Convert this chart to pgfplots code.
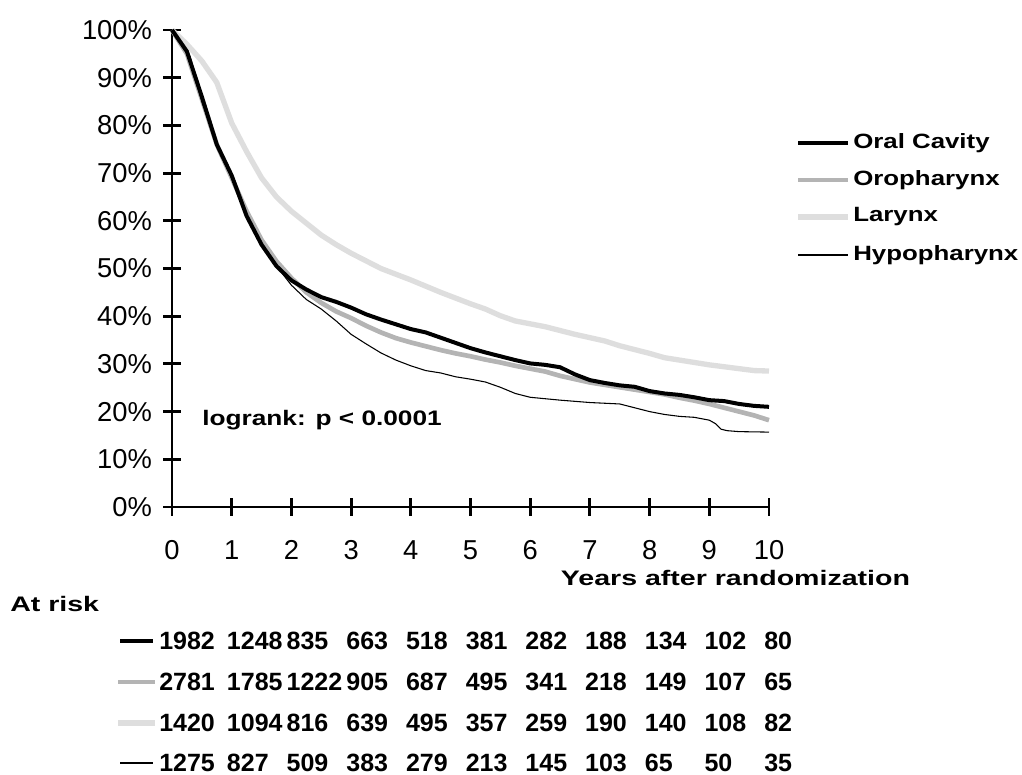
\documentclass[border=0pt]{standalone}
\usepackage{pgfplots}
\pgfplotsset{compat=1.18}
\usepackage{fontspec}
\setmainfont{Liberation Sans}
\newfontfamily\boldwide[FakeStretch=1.25]{Liberation Sans}
\newfontfamily\boldwider[FakeStretch=1.36]{Liberation Sans}
\definecolor{orogray}{RGB}{180,180,180}
\definecolor{larlight}{RGB}{222,222,222}

\pgfplotstableread{
x y
0 100
0.25 95.5
0.5 86
0.75 76
1.0 69.5
1.25 61
1.5 55
1.75 50.5
2.0 47.5
2.25 45.6
2.5 44.0
2.75 43.0
3.0 41.8
3.25 40.4
3.5 39.3
3.75 38.3
4.0 37.3
4.25 36.6
4.5 35.5
4.75 34.4
5.0 33.3
5.25 32.4
5.5 31.6
5.75 30.8
6.0 30.1
6.25 29.8
6.5 29.3
6.75 27.8
7.0 26.6
7.25 26.0
7.5 25.5
7.75 25.2
8.0 24.3
8.25 23.8
8.5 23.5
8.75 23.0
9.0 22.4
9.25 22.2
9.5 21.6
9.75 21.2
10 21.0
}\oral

\pgfplotstableread{
x y
0 100
0.25 95
0.5 85.5
0.75 76
1.0 69
1.25 62
1.5 56
1.75 51.5
2.0 48
2.25 45
2.5 42.8
2.75 41.0
3.0 39.6
3.25 38.0
3.5 36.6
3.75 35.4
4.0 34.5
4.25 33.7
4.5 32.9
4.75 32.2
5.0 31.6
5.25 30.9
5.5 30.3
5.75 29.6
6.0 29.0
6.25 28.4
6.5 27.5
6.75 26.8
7.0 26.1
7.25 25.6
7.5 25.1
7.75 24.6
8.0 24.1
8.25 23.6
8.5 22.9
8.75 22.3
9.0 21.6
9.25 20.8
9.5 20.0
9.75 19.2
10 18.2
}\oro

\pgfplotstableread{
x y
0 100
0.25 97
0.5 93.5
0.75 89
1.0 80.5
1.25 74.5
1.5 69
1.75 65
2.0 62
2.25 59.5
2.5 57
2.75 55
3.0 53.2
3.25 51.6
3.5 50.0
3.75 48.8
4.0 47.6
4.25 46.3
4.5 45.0
4.75 43.8
5.0 42.6
5.25 41.5
5.5 40.1
5.75 39.0
6.0 38.4
6.25 37.8
6.5 37.0
6.75 36.2
7.0 35.5
7.25 34.8
7.5 33.8
7.75 33.0
8.0 32.2
8.25 31.3
8.5 30.8
8.75 30.3
9.0 29.8
9.25 29.4
9.5 29.0
9.75 28.6
10 28.5
}\lar

\pgfplotstableread{
x y
0 100
0.2 96
0.3 94.5
0.5 85
0.75 76
1.0 69
1.25 61
1.5 55
1.75 50.5
2.0 46.5
2.25 43.5
2.5 41.5
2.75 39
3.0 36.2
3.25 34.2
3.5 32.3
3.75 30.8
4.0 29.6
4.25 28.6
4.5 28.1
4.75 27.3
5.0 26.8
5.25 26.2
5.5 25.1
5.75 23.8
6.0 23.0
6.5 22.4
7.0 21.9
7.5 21.6
7.75 20.8
8.0 20.0
8.25 19.4
8.5 19.0
8.75 18.8
9.0 18.2
9.1 17.5
9.2 16.3
9.3 16.0
9.5 15.8
10 15.7
}\hypo

\begin{document}
\begin{tikzpicture}
\path[use as bounding box] (0pt,0pt) rectangle (766.5pt,581.25pt);
\begin{axis}[
  at={(129pt,201pt)}, anchor=south west,
  scale only axis, width=447.75pt, height=357.75pt,
  xmin=0, xmax=10, ymin=0, ymax=100,
  axis lines*=left,
  axis line style={line width=2.2pt, -},
  every tick/.style={line width=2.2pt, black},
  tick align=center,
  major tick length=13pt,
  xtick={0,1,...,10},
  ytick={0,10,...,100},
  yticklabels={0\%,10\%,20\%,30\%,40\%,50\%,60\%,70\%,80\%,90\%,100\%},
  xticklabels={0,1,2,3,4,5,6,7,8,9,10},
  tick label style={font=\fontsize{20.5}{24}\selectfont},
  yticklabel style={xshift=-5pt},
  xticklabel style={yshift=-15pt},
  clip=false,
]
\addplot[larlight, line width=4pt] table {\lar};
\addplot[orogray, line width=3.5pt] table {\oro};
\addplot[black, line width=3pt] table {\oral};
\addplot[black, line width=0.8pt] table {\hypo};
\end{axis}

\begin{scope}[x=0.75pt,y=0.75pt]
% texts
\node[anchor=center, inner sep=0] at (735.5,197) {\boldwider\bfseries\fontsize{15.75}{18}\selectfont Years after randomization};
\node[anchor=west, inner sep=0] at (202,355) {\boldwide\bfseries\fontsize{15.75}{18}\selectfont logrank: p < 0.0001};
\node[anchor=west, inner sep=0] at (10,171) {\boldwider\bfseries\fontsize{15.75}{18}\selectfont At risk};

% legend
\draw[black, line width=3pt] (798,632) -- (848,632);
\draw[orogray, line width=3.5pt] (798,595) -- (848,595);
\draw[larlight, line width=4pt] (798,558) -- (848,558);
\draw[black, line width=0.8pt] (798,520) -- (848,520);
\node[anchor=west, inner sep=0] at (853,632) {\boldwide\bfseries\fontsize{15.5}{18}\selectfont Oral Cavity};
\node[anchor=west, inner sep=0] at (853,595) {\boldwide\bfseries\fontsize{15.5}{18}\selectfont Oropharynx};
\node[anchor=west, inner sep=0] at (853,558) {\boldwide\bfseries\fontsize{15.5}{18}\selectfont Larynx};
\node[anchor=west, inner sep=0] at (853,520) {\boldwide\bfseries\fontsize{15.5}{18}\selectfont Hypopharynx};

% at risk
\draw[black, line width=3pt] (120,134) -- (153,134);
\draw[orogray, line width=3.5pt] (118,93) -- (155,93);
\draw[larlight, line width=4pt] (118,52) -- (155,52);
\draw[black, line width=0.8pt] (120,12) -- (153,12);
\foreach \row/\yy in {{1982,1248,835,663,518,381,282,188,134,102,80}/134,
                      {2781,1785,1222,905,687,495,341,218,149,107,65}/93,
                      {1420,1094,816,639,495,357,259,190,140,108,82}/52,
                      {1275,827,509,383,279,213,145,103,65,50,35}/12}{
  \foreach \v [count=\k from 0] in \row {
    \pgfmathsetmacro{\xx}{ifthenelse(\k==0,159,167+59.7*\k)}
    \node[anchor=west, inner sep=0, font=\bfseries\fontsize{18.75}{20}\selectfont] at (\xx,\yy) {\v};
  }
}
\end{scope}
\end{tikzpicture}
\end{document}
